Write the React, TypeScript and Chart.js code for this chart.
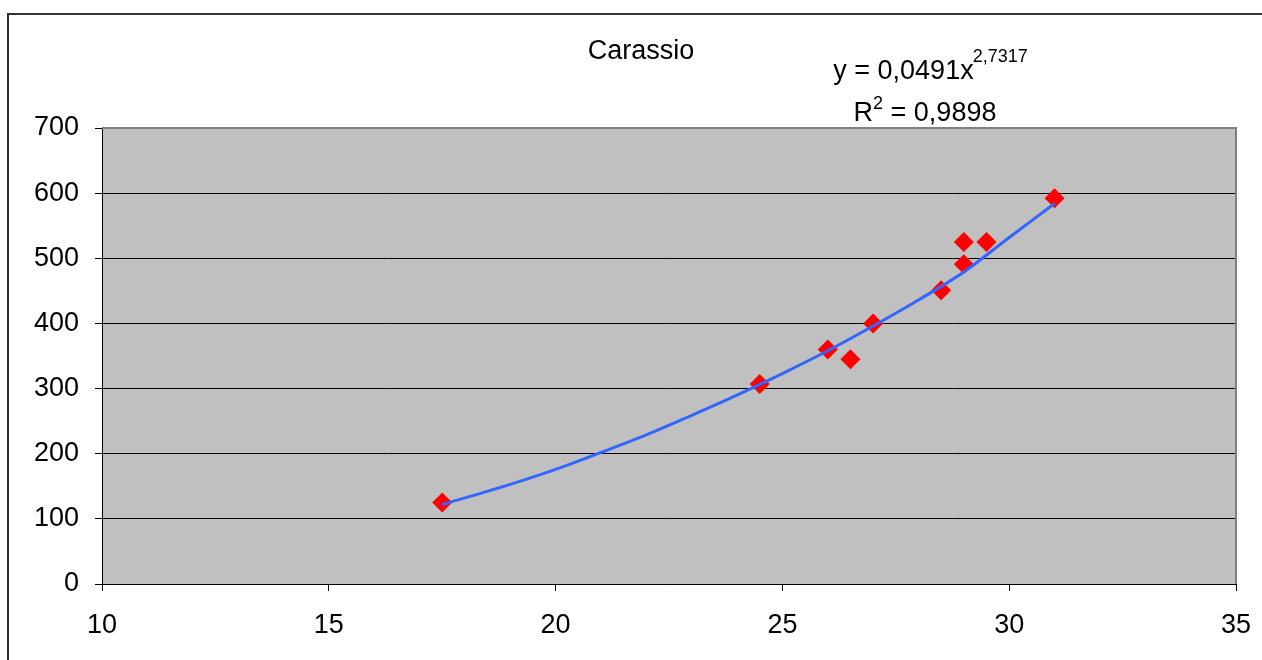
import React, { useEffect, useRef } from "react";
import { Chart, registerables } from "chart.js";

Chart.register(...registerables);

const TITLE = "Carassio";
const EQUATION_MAIN = "y = 0,0491x";
const EQUATION_EXP = "2,7317";
const R2_MAIN = "R";
const R2_EXP = "2";
const R2_VALUE = " = 0,9898";

const lengthCm = [17.5, 24.5, 26, 26.5, 27, 28.5, 29, 29, 29.5, 31];
const weightG = [125, 307, 360, 345, 400, 451, 491, 525, 525, 592];

const trendX = [17.5, 19, 20, 21, 22, 23, 24, 25, 26, 27, 28, 29, 30, 31];
const trendY = [122, 153, 176, 202, 229, 259, 290, 323, 358, 396, 436, 479, 532, 584];

const FONT = "'Liberation Sans', Arial, sans-serif";
const FS = 27;
const FS_SUP = 18;

export default function App() {
  const ref = useRef<HTMLCanvasElement | null>(null);

  useEffect(() => {
    if (!ref.current) return;
    const bgPlugin = {
      id: "plotBg",
      beforeDraw(chart: any) {
        const { ctx, chartArea: a } = chart;
        ctx.save();
        ctx.fillStyle = "#C0C0C0";
        ctx.fillRect(a.left, a.top, a.right - a.left, a.bottom - a.top);
        ctx.restore();
      },
      afterDraw(chart: any) {
        const { ctx, chartArea: a } = chart;
        ctx.save();
        ctx.strokeStyle = "#808080";
        ctx.lineWidth = 2;
        ctx.beginPath();
        ctx.moveTo(a.left, a.top);
        ctx.lineTo(a.right, a.top);
        ctx.lineTo(a.right, a.bottom);
        ctx.stroke();
        ctx.fillStyle = "#000";
        ctx.textBaseline = "alphabetic";
        // title
        ctx.font = `${FS}px ${FONT}`;
        ctx.textAlign = "center";
        ctx.fillText(TITLE, 641, 59);
        // equation
        ctx.textAlign = "left";
        ctx.font = `${FS}px ${FONT}`;
        const wMain = ctx.measureText(EQUATION_MAIN).width;
        ctx.font = `${FS_SUP}px ${FONT}`;
        const wExp = ctx.measureText(EQUATION_EXP).width;
        let x0 = 931 - (wMain + wExp) / 2;
        ctx.font = `${FS}px ${FONT}`;
        ctx.fillText(EQUATION_MAIN, x0, 79);
        ctx.font = `${FS_SUP}px ${FONT}`;
        ctx.fillText(EQUATION_EXP, x0 + wMain - 1, 62);
        // R2
        ctx.font = `${FS}px ${FONT}`;
        const wR = ctx.measureText(R2_MAIN).width;
        const wV = ctx.measureText(R2_VALUE).width;
        ctx.font = `${FS_SUP}px ${FONT}`;
        const w2 = ctx.measureText(R2_EXP).width;
        x0 = 925 - (wR + w2 + wV) / 2;
        ctx.font = `${FS}px ${FONT}`;
        ctx.fillText(R2_MAIN, x0, 121);
        ctx.font = `${FS_SUP}px ${FONT}`;
        ctx.fillText(R2_EXP, x0 + wR, 109);
        ctx.font = `${FS}px ${FONT}`;
        ctx.fillText(R2_VALUE, x0 + wR + w2, 121);
        ctx.restore();
      },
    };

    const chart = new Chart(ref.current, {
      type: "scatter",
      data: {
        datasets: [
          {
            label: "trend",
            type: "line",
            data: trendX.map((x, i) => ({ x, y: trendY[i] })),
            borderColor: "#3366FF",
            borderWidth: 3,
            pointRadius: 0,
            cubicInterpolationMode: "monotone",
            fill: false,
            order: 0,
          } as any,
          {
            label: TITLE,
            data: lengthCm.map((x, i) => ({ x, y: weightG[i] })),
            pointStyle: "rectRot",
            pointRadius: 10,
            pointBackgroundColor: "#FF0000",
            pointBorderWidth: 0,
            borderColor: "#FF0000",
            showLine: false,
            order: 1,
          },
        ],
      },
      options: {
        responsive: false,
        animation: false,
        devicePixelRatio: 1,
        layout: { padding: { top: 128, right: 26, left: 0, bottom: 0 } },
        plugins: {
          legend: { display: false },
          tooltip: { enabled: false },
          title: { display: false },
        },
        scales: {
          x: {
            type: "linear",
            min: 10,
            max: 35,
            ticks: {
              stepSize: 5,
              color: "#000",
              font: { family: FONT, size: FS },
              padding: 18,
              maxRotation: 0,
            },
            grid: {
              drawOnChartArea: false,
              drawTicks: true,
              tickLength: 7,
              tickColor: "#000",
            },
            border: { color: "#000", width: 1 },
            afterFit(scale: any) {
              scale.height = 76;
              scale.paddingRight = 0;
              scale.paddingLeft = 0;
            },
          },
          y: {
            type: "linear",
            min: 0,
            max: 700,
            ticks: {
              stepSize: 100,
              color: "#000",
              font: { family: FONT, size: FS },
              padding: 16,
            },
            grid: {
              color: (c: any) => (c.tick && c.tick.value === 700 ? "rgba(0,0,0,0)" : "#000"),
              tickColor: "#000",
              tickLength: 7,
              lineWidth: 1,
            },
            border: { color: "#000", width: 1 },
            afterFit(scale: any) {
              scale.width = 102;
              scale.paddingTop = 0;
              scale.paddingBottom = 0;
            },
          },
        },
      },
      plugins: [bgPlugin],
    });
    return () => chart.destroy();
  }, []);

  return (
    <div style={{ position: "fixed", left: 0, top: 0, width: 1262, height: 660, background: "#fff", overflow: "hidden" }}>
      <div
        style={{
          position: "absolute",
          left: 7,
          top: 13,
          width: 1300,
          height: 700,
          border: "2px solid #333",
        }}
      />
      <canvas ref={ref} width={1262} height={660} style={{ position: "absolute", left: 0, top: 0 }} />
    </div>
  );
}
